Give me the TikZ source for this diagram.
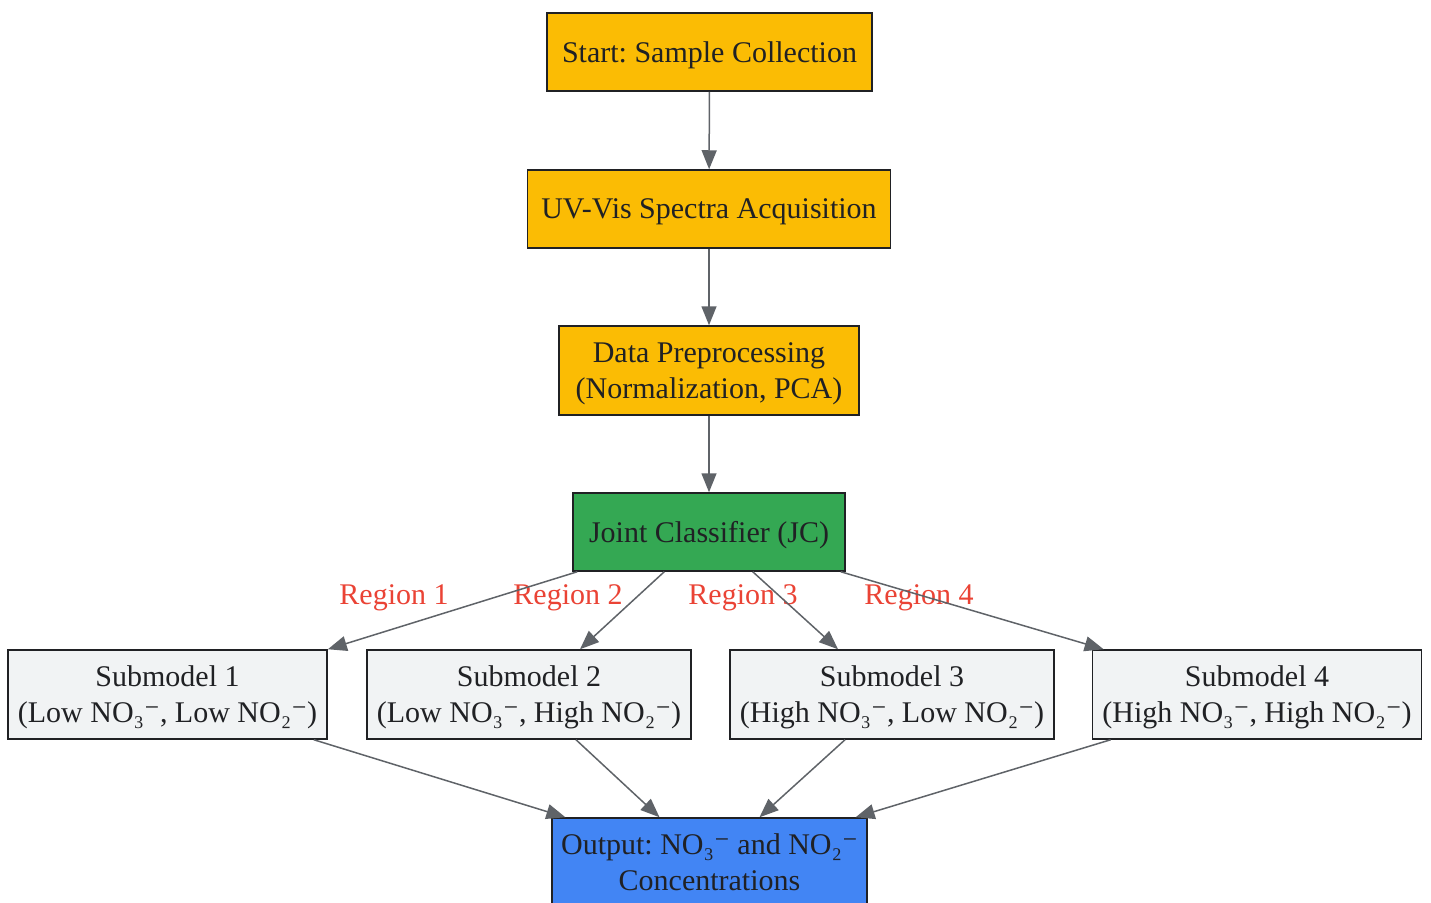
\documentclass[tikz,border=0pt]{standalone}
\usepackage{fontspec}
\setmainfont{Liberation Serif}
\newfontfamily\ionfont{DejaVu Serif}
\newcommand{\ionminus}{{\ionfont ⁻}}
\frenchspacing
\usetikzlibrary{arrows.meta,positioning}
\definecolor{stageyellow}{HTML}{FBBC04}
\definecolor{jcgreen}{HTML}{34A853}
\definecolor{outblue}{HTML}{4285F4}
\definecolor{subgray}{HTML}{F1F3F4}
\definecolor{edgegray}{HTML}{5F6368}
\definecolor{regionred}{HTML}{EA4335}
\definecolor{inkdark}{HTML}{202124}
\tikzset{
  box/.style={draw=inkdark,line width=1.5pt,text=inkdark,font=\fontsize{30}{36}\selectfont,align=center,inner xsep=13pt,inner ysep=2pt,text depth=0pt,minimum height=78pt},
  stage/.style={box,fill=stageyellow},
  twoline/.style={minimum height=89pt},
  submodel/.style={box,twoline,fill=subgray,inner xsep=10pt},
  region/.style={text=regionred,font=\fontsize{30}{36}\selectfont,inner sep=0pt}
}
\begin{document}
\begin{tikzpicture}[x=1pt,y=-1pt]
\useasboundingbox (0,0) rectangle (1431,902);
\node[stage,inner xsep=15pt] (N1) at (709.5,52) {Start: Sample Collection};
\node[stage,inner xsep=14pt] (N2) at (709,209) {UV-Vis Spectra Acquisition};
\node[stage,twoline,inner xsep=16.5pt] (N3) at (709,370.5) {Data Preprocessing\\(Normalization, PCA)};
\node[box,fill=jcgreen,inner xsep=16pt] (JC) at (709,532) {Joint Classifier (JC)};
\node[box,twoline,fill=outblue,inner xsep=9pt] (Out) at (709.5,862.5) {Output: NO₃\ionminus{} and NO₂\ionminus\\Concentrations};

\foreach \t/\x [count=\n] in
        {{(Low NO₃\ionminus, Low NO₂\ionminus)}/167.5,{(Low NO₃\ionminus, High NO₂\ionminus)}/529,{(High NO₃\ionminus, Low NO₂\ionminus)}/892,{(High NO₃\ionminus, High NO₂\ionminus)}/1257}
   \node[submodel] (S\n) at (\x,694.5) {Submodel \n\\\t};

\foreach \x [count=\n] in {394,568,743,919}
   \node[region] (R\n) at (\x,598) {Region \n};

\path[-{Triangle[length=19pt,width=15pt]},edgegray,line width=1.5pt]
   (N1) edge (N2)
   (N2) edge (N3)
   (N3) edge (JC)
   ([xshift=5pt]JC.south west) edge (S1.north east)
   ([xshift=92pt]JC.south west) edge ([xshift=51pt]S2.north)
   ([xshift=-93pt]JC.south east) edge ([xshift=-54pt]S3.north)
   ([xshift=-5pt]JC.south east) edge ([xshift=12pt]S4.north west)
   ([xshift=-14pt]S1.south east) edge ([xshift=14pt]Out.north west)
   ([xshift=47pt]S2.south) edge ([xshift=-50pt]Out.north)
   ([xshift=-47pt]S3.south) edge ([xshift=50pt]Out.north)
   ([xshift=19pt]S4.south west) edge ([xshift=-12pt]Out.north east);
\end{tikzpicture}
\end{document}
